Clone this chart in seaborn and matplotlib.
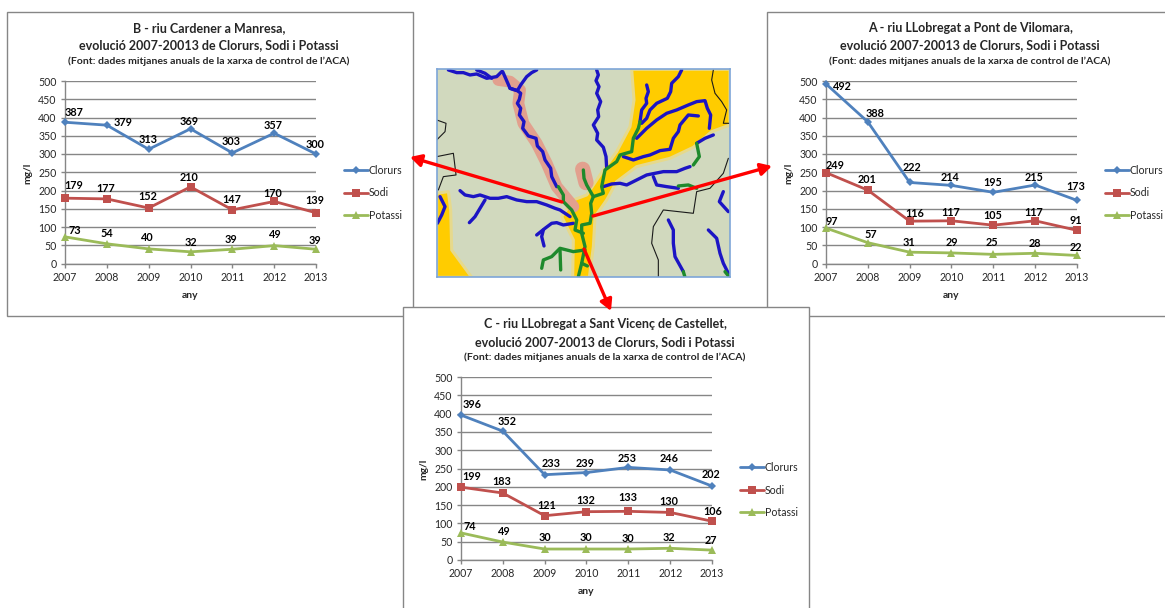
import matplotlib
matplotlib.use("Agg")
import matplotlib.pyplot as plt
from matplotlib.patches import Rectangle, Polygon
import pandas as pd
import seaborn as sns

W, H = 1165, 608
years = [2007, 2008, 2009, 2010, 2011, 2012, 2013]
series = ["Clorurs", "Sodi", "Potassi"]

b_clorurs = [387, 379, 313, 369, 303, 357, 300]
b_sodi = [179, 177, 152, 210, 147, 170, 139]
b_potassi = [73, 54, 40, 32, 39, 49, 39]
a_clorurs = [492, 388, 222, 214, 195, 215, 173]
a_sodi = [249, 201, 116, 117, 105, 117, 91]
a_potassi = [97, 57, 31, 29, 25, 28, 22]
c_clorurs = [396, 352, 233, 239, 253, 246, 202]
c_sodi = [199, 183, 121, 132, 133, 130, 106]
c_potassi = [74, 49, 30, 30, 30, 32, 27]

title_b = "B - riu Cardener a Manresa,"
title_a = "A - riu LLobregat a Pont de Vilomara,"
title_c = "C - riu LLobregat a Sant Vicenç de Castellet,"
title_2 = "evolució 2007-20013 de Clorurs, Sodi i Potassi"
title_3 = "(Font: dades mitjanes anuals de la xarxa de control de l’ACA)"

off_b = [[(9,-10),(16,-3),(-1,-10),(-1,-7),(-1,-11),(-1,-8),(-1,-10)],
         [(9,-13),(-1,-10),(-1,-12),(-1,-9),(-1,-10),(-1,-8),(-1,-12)],
         [(10,-6),(0,-10),(-1,-11),(0,-9),(-1,-10),(1,-11),(-1,-9)]]
off_a = [[(16,3),(7,-8),(2,-15),(-1,-8),(-1,-10),(-1,-8),(-1,-14)],
         [(9,-7),(-1,-11),(5,-8),(-1,-8),(-1,-10),(-1,-8),(-1,-10)],
         [(6,-7),(3,-8),(-1,-10),(0,-10),(-1,-12),(0,-10),(-1,-8)]]
off_c = [[(11,-11),(4,-10),(6,-11),(-1,-9),(-1,-9),(-1,-11),(-1,-12)],
         [(11,-11),(-1,-12),(2,-10),(-1,-11),(-1,-14),(-1,-11),(1,-10)],
         [(9,-6),(1,-11),(0,-12),(-1,-12),(0,-11),(-1,-11),(-1,-10)]]

COL = {"Clorurs": "#4F81BD", "Sodi": "#C0504D", "Potassi": "#9BBB59"}
MARK = {"Clorurs": "D", "Sodi": "s", "Potassi": "^"}
MSIZE = {"Clorurs": 4.2, "Sodi": 6.4, "Potassi": 6.2}
GRAY = "#868686"
TXT = "#262626"

sns.set_theme(style="white", rc={"axes.grid": False})
plt.rcParams["font.family"] = ["Lato", "DejaVu Sans"]

fig = plt.figure(figsize=(W / 100, H / 100), dpi=100, facecolor="white")


def px_axes(x0, y0, x1, y1, z):
    return fig.add_axes([x0 / W, 1 - y1 / H, (x1 - x0) / W, (y1 - y0) / H], zorder=z)


bg = px_axes(0, 0, W, H, 0)
bg.set_xlim(0, W)
bg.set_ylim(H, 0)
bg.axis("off")
for i, (x, y, w, h) in enumerate([(6.5, 12, 406.5, 304), (767, 12, 420, 304), (403, 307, 406, 320)]):
    bg.add_patch(Rectangle((x, y), w, h, fc="white", ec=GRAY, lw=1.0, zorder=i + 1))

top = px_axes(0, 0, W, H, 5)
top.set_xlim(0, W)
top.set_ylim(H, 0)
top.axis("off")
top.patch.set_alpha(0)


def chart(box, cx, ty, lx, ly, t1, vals, offs):
    x0, y0, x1, y1 = box
    ax = px_axes(x0, y0, x1, y1, 2)
    ax.patch.set_alpha(0)
    df = pd.DataFrame({"any": years * 3,
                       "mg/l": [v for s in vals for v in s],
                       "serie": [s for s in series for _ in years]})
    sns.lineplot(data=df, x="any", y="mg/l", hue="serie", style="serie", hue_order=series,
                 style_order=series, palette=COL, markers=MARK, dashes=False, lw=2.0,
                 markeredgewidth=0, ax=ax, clip_on=False, zorder=3, legend=False, errorbar=None)
    for line, s in zip(ax.get_lines(), series):
        line.set_markersize(MSIZE[s])
        line.set_markeredgecolor(COL[s])
        line.set_markerfacecolor(COL[s])
    ax.set_xlim(2007, 2013)
    ax.set_ylim(0, 500)
    ax.set_xticks(years)
    ax.set_yticks(range(0, 501, 50))
    ax.yaxis.grid(True, color=GRAY, lw=1.0)
    ax.set_axisbelow(True)
    for k in ("top", "right"):
        ax.spines[k].set_visible(False)
    for k in ("left", "bottom"):
        ax.spines[k].set_color(GRAY)
        ax.spines[k].set_linewidth(1.0)
    ax.tick_params(axis="both", length=3, width=1, color=GRAY, labelsize=7.6, labelcolor=TXT,
                   pad=3, bottom=True, left=True)
    ax.set_xlabel("")
    ax.set_ylabel("")
    for vs, os in zip(vals, offs):
        for yr, v, o in zip(years, vs, os):
            ax.annotate(str(v), (yr, v), xytext=(o[0], -o[1]), textcoords="offset pixels",
                        ha="center", va="center", fontsize=7.8, fontweight="bold", color="black",
                        annotation_clip=False, zorder=6)
    handles = [plt.Line2D([], [], color=COL[s], lw=2.0, marker=MARK[s], ms=MSIZE[s], mew=0) for s in series]
    ax.legend(handles, series, loc="center left", bbox_to_anchor=((lx - x0) / (x1 - x0), (y1 - ly) / (y1 - y0)),
              frameon=False, fontsize=7.6, handlelength=2.25, handletextpad=0.1, labelspacing=1.09,
              borderpad=0, borderaxespad=0, labelcolor=TXT)
    fs = (9.0, 9.0, 7.55)
    for s, y, size in zip((t1, title_2, title_3), ty, fs):
        top.text(cx, y, s, ha="center", va="center", fontsize=size, fontweight="bold", color=TXT)
    top.text(x0 - 37, (y0 + y1) / 2 + 1, "mg/l", rotation=90, ha="center", va="center",
             fontsize=7.4, fontweight="bold", color=TXT)
    top.text((x0 + x1) / 2, y1 + 32, "any", ha="center", va="center",
             fontsize=7.4, fontweight="bold", color=TXT)
    return ax


chart((65, 81, 316, 263.5), 209, (28, 45, 61), 344, 193, title_b, (b_clorurs, b_sodi, b_potassi), off_b)
chart((826, 81, 1077, 263.5), 970, (28, 45, 61), 1105, 193, title_a, (a_clorurs, a_sodi, a_potassi), off_a)
chart((461, 377, 712, 560), 605, (324, 342, 357), 740, 490, title_c, (c_clorurs, c_sodi, c_potassi), off_c)

# Map (coordinates in a local 3x pixel frame)
m = px_axes(436.7, 69.3, 730, 277.3, 1)
m.set_xlim(20, 900)
m.set_ylim(652, 28)
m.set_xticks([])
m.set_yticks([])
m.set_facecolor("#D1D9BE")
for sp in m.spines.values():
    sp.set_color("#7EA6D8")
    sp.set_linewidth(1.2)

yellow_main = [(605,28),(900,28),(900,195),(845,215),(790,262),(720,295),(620,320),(560,365),(530,420),
               (495,470),(490,560),(478,652),(428,652),(430,540),(395,470),(430,420),(470,405),(520,330),
               (560,275),(600,200),(612,120)]
yellow_left = [(20,400),(55,395),(62,450),(65,570),(125,652),(20,652)]
for poly in (yellow_main, yellow_left):
    m.add_patch(Polygon(poly, fc="#FFCC00", ec="#E6D98C", lw=2.2, joinstyle="round"))

pink_long = [(205,60),(240,65),(270,90),(265,130),(280,190),(320,250),(350,310),(380,380),(430,440)]
pink_short = [(458,328),(468,368)]
m.plot(*zip(*pink_long), color="#E2A08E", lw=8.5, solid_capstyle="round", solid_joinstyle="round")
m.plot(*zip(*pink_short), color="#E2A08E", lw=11, solid_capstyle="round")

borders = [
    [(20,180),(48,190),(45,215),(20,240)],
    [(20,290),(45,285),(70,280),(78,345),(40,350),(25,390)],
    [(850,30),(845,60),(855,100),(875,125),(890,150),(880,190),(897,190)],
    [(895,295),(880,340),(840,385),(800,395),(790,460),(745,455),(700,450),(670,500),(665,550),(685,600),(685,652)],
]
blue = [
    [(55,30),(80,38),(100,38),(120,45),(140,42),(170,55),(200,50),(215,35)],
    [(140,30),(165,40),(185,55)],
    [(218,35),(240,85),(262,92),(272,75),(290,50),(305,38),(320,30)],
    [(240,85),(262,92),(272,100),(268,118),(262,130),(272,145),(268,165),(282,185),(278,205),(295,228),
     (318,235),(322,258),(338,275),(345,300),(362,325),(365,350),(380,380)],
    [(500,30),(505,45),(498,62),(507,80),(500,100),(512,125),(503,150),(506,170),(490,195),(503,220),
     (500,240),(520,262),(528,290),(530,325)],
    [(650,75),(655,95),(648,115),(650,130),(635,150),(630,185)],
    [(755,30),(745,50),(725,70),(722,95),(712,115),(680,130),(660,150),(650,175),(635,190)],
    [(620,235),(650,205),(680,180),(710,160),(740,150),(775,135),(800,125),(825,122),(832,145),(842,165),(838,205)],
    [(580,290),(610,300),(640,290),(660,285),(690,272),(720,268),(730,235),(745,215),(750,195),(775,165),(805,168)],
    [(520,380),(545,372),(570,370),(590,375),(610,365),(630,355),(650,345),(675,340),(700,335),(740,335),(765,325),(780,320)],
    [(670,350),(680,375),(710,380),(745,385)],
    [(850,225),(825,235),(800,250)],
    [(90,392),(105,405),(130,410),(150,405),(180,415),(205,415),(230,410),(260,420),(290,425),(320,425),(350,435),
     (375,445),(390,450),(420,470)],
    [(165,420),(150,445),(135,470),(118,488)],
    [(430,490),(400,495),(380,488),(365,490),(345,505),(320,525)],
    [(340,510),(335,530),(342,558)],
    [(30,410),(45,440),(35,465),(22,490)],
    [(880,395),(868,425),(895,455)],
    [(715,480),(730,510),(730,550),(735,590),(760,635)],
    [(835,510),(860,535),(870,580),(880,610),(895,640)],
]
green = [
    [(385,380),(400,405),(400,425),(425,450),(440,480),(435,510),(460,520)],
    [(460,330),(462,355),(470,375),(490,410),(482,430),(485,460),(480,490),(455,495),(455,520),(465,560),(455,610),(445,650)],
    [(490,410),(520,400),(515,380),(525,330),(560,305),(570,285),(605,275),(610,235),(625,205),(630,185)],
    [(465,570),(430,575),(390,565),(365,590),(340,600),(335,625)],
    [(390,570),(392,630)],
    [(455,610),(472,618)],
    [(745,378),(775,375),(800,385)],
    [(800,250),(808,290),(790,315)],
    [(760,635),(765,652)],
    [(885,635),(897,650)],
]
for p in borders:
    m.plot(*zip(*p), color="#1a1a1a", lw=0.8)
for p in blue:
    m.plot(*zip(*p), color="#1C14C4", lw=2.4, solid_joinstyle="round")
for p in green:
    m.plot(*zip(*p), color="#1E8A2C", lw=2.4, solid_joinstyle="round")

arrows = [((562, 202), (410, 157)), ((593, 216), (772, 166)), ((584, 249), (611, 311))]
for start, end in arrows:
    top.annotate("", xy=end, xytext=start,
                 arrowprops=dict(arrowstyle="-|>,head_length=0.55,head_width=0.3", color="#FF0000", lw=2.4,
                                 shrinkA=0, shrinkB=0, mutation_scale=12))

fig.savefig("out.png", dpi=100)
